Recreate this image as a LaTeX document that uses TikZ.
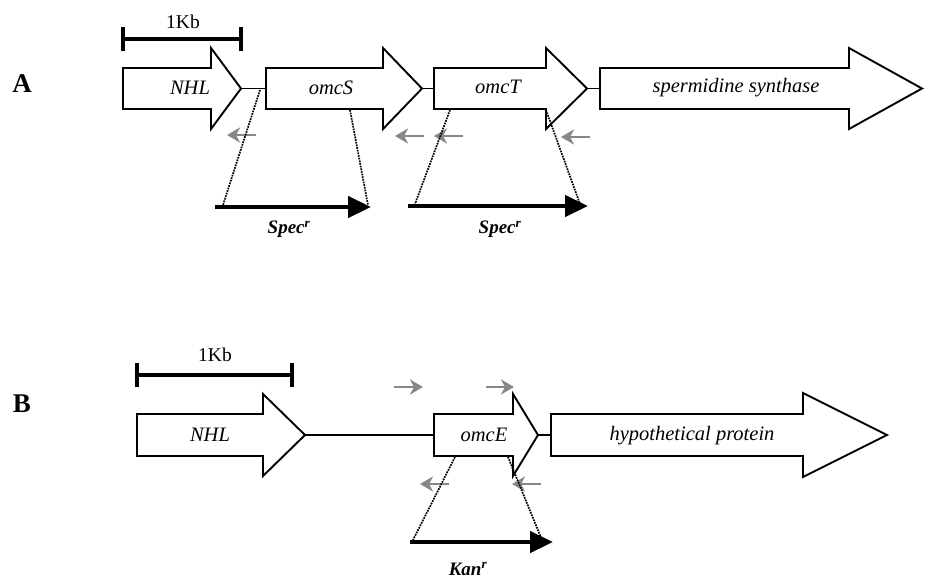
\documentclass[tikz,border=0pt]{standalone}
\usepackage{fontspec}
\setmainfont{Liberation Serif}
\usetikzlibrary{arrows.meta}
\newcommand\genepoly[6]{% x0, xh, xt, ytop, ybot, headext
  \draw[gene] (#1,#4) -- (#2,#4) -- (#2,{#4-#6}) -- (#3,{(#4+#5)/2}) -- (#2,{#5+#6}) -- (#2,#5) -- (#1,#5) -- cycle;}
\begin{document}
\begin{tikzpicture}[x=1pt,y=-1pt,
  gene/.style={draw=black, line width=1.9pt, fill=white, line join=miter},
  glabel/.style={font=\fontsize{20.5}{24}\selectfont\itshape, inner sep=0pt},
  intergenic/.style={draw=black, line width=1.8pt},
  scalebar/.style={draw=black, line width=3.4pt},
  scaletxt/.style={font=\fontsize{19.5}{22}\selectfont, inner sep=0pt},
  panel/.style={font=\fontsize{27}{30}\selectfont\bfseries, inner sep=0pt},
  primer/.style={draw=black!47, line width=2.6pt, -{Stealth[length=13pt,width=15pt,inset=4pt]}},
  cassette/.style={draw=black, line width=4.5pt, -{Triangle[length=23pt,width=21pt]}},
  cassettetxt/.style={font=\fontsize{19}{22}\selectfont\bfseries\itshape, inner sep=0pt},
  dots/.style={draw=black, line width=1.7pt, densely dotted}]
\useasboundingbox[fill=white] (0,0) rectangle (929,581);

% ---------------- Panel A ----------------
\node[panel] (A) at (22,84) {A};

% scale bar
\coordinate (sbA-l) at (123,39);
\coordinate (sbA-r) at (241,39);
\draw[scalebar] (sbA-l) -- (sbA-r);
\draw[scalebar] ([yshift=-12pt]sbA-l) -- ([yshift=12pt]sbA-l);
\draw[scalebar] ([yshift=-12pt]sbA-r) -- ([yshift=12pt]sbA-r);
\node[scaletxt] (kbA) at (183,22) {1Kb};

% intergenic lines
\coordinate (nhlA-tip) at (241,88.5);
\coordinate (omcS-left) at (266,88.5);
\coordinate (omcS-tip) at (422,88.5);
\coordinate (omcT-left) at (434,88.5);
\coordinate (omcT-tip) at (587,88.5);
\coordinate (spe-left) at (600,88.5);
\draw[intergenic] (nhlA-tip) -- (omcS-left);
\draw[intergenic] (omcS-tip) -- (omcT-left);
\draw[intergenic] (omcT-tip) -- (spe-left);

% genes
\genepoly{123}{211}{241}{68}{109}{20}
\genepoly{266}{383}{422}{68}{109}{20}
\genepoly{434}{546}{587}{68}{109}{20}
\genepoly{600}{849}{922}{68}{109}{20}
\node[glabel] (nhlA) at (190,88) {NHL};
\node[glabel] (omcS) at (331,88) {omcS};
\node[glabel] (omcT) at (498,87) {omcT};
\node[glabel] (spe) at (736,88) {spermidine synthase};

% primers
\coordinate (pA1s) at (256,135); \coordinate (pA1e) at (227,135);
\coordinate (pA2s) at (424,136); \coordinate (pA2e) at (395,136);
\coordinate (pA3s) at (463,136); \coordinate (pA3e) at (434,136);
\coordinate (pA4s) at (590,137); \coordinate (pA4e) at (561,137);
\draw[primer] (pA1s) -- (pA1e);
\draw[primer] (pA2s) -- (pA2e);
\draw[primer] (pA3s) -- (pA3e);
\draw[primer] (pA4s) -- (pA4e);

% cassettes
\coordinate (spec1-s) at (215,207); \coordinate (spec1-e) at (371,207);
\coordinate (spec2-s) at (408,206); \coordinate (spec2-e) at (588,206);
\draw[cassette] (spec1-s) -- (spec1-e);
\draw[cassette] (spec2-s) -- (spec2-e);
\node[cassettetxt] (specA1) at (289,229) {Spec\textsuperscript{r}};
\node[cassettetxt] (specA2) at (500,229) {Spec\textsuperscript{r}};

% dotted insertion lines
\coordinate (dA1t) at (260,90);  \coordinate (dA1b) at (223,205);
\coordinate (dA2t) at (350,110); \coordinate (dA2b) at (368,205);
\coordinate (dA3t) at (450,110); \coordinate (dA3b) at (415,204);
\coordinate (dA4t) at (546,110); \coordinate (dA4b) at (580,204);
\draw[dots] (dA1t) -- (dA1b);
\draw[dots] (dA2t) -- (dA2b);
\draw[dots] (dA3t) -- (dA3b);
\draw[dots] (dA4t) -- (dA4b);

% ---------------- Panel B ----------------
\node[panel] (B) at (22,404) {B};

\coordinate (sbB-l) at (137,375);
\coordinate (sbB-r) at (292,375);
\draw[scalebar] (sbB-l) -- (sbB-r);
\draw[scalebar] ([yshift=-12pt]sbB-l) -- ([yshift=12pt]sbB-l);
\draw[scalebar] ([yshift=-12pt]sbB-r) -- ([yshift=12pt]sbB-r);
\node[scaletxt] (kbB) at (215,355) {1Kb};

\coordinate (nhlB-tip) at (305,435);
\coordinate (omcE-left) at (434,435);
\coordinate (omcE-tip) at (538,435);
\coordinate (hyp-left) at (551,435);
\draw[intergenic] (nhlB-tip) -- (omcE-left);
\draw[intergenic] (omcE-tip) -- (hyp-left);

\genepoly{137}{263}{305}{414}{456}{20}
\genepoly{434}{513}{538}{414}{456}{20}
\genepoly{551}{803}{887}{414}{456}{21}
\node[glabel] (nhlB) at (210,435) {NHL};
\node[glabel] (omcE) at (484,435) {omcE};
\node[glabel] (hyp) at (692,436) {hypothetical protein};

% primers
\coordinate (pB1s) at (394,387); \coordinate (pB1e) at (423,387);
\coordinate (pB2s) at (486,387); \coordinate (pB2e) at (514,387);
\coordinate (pB3s) at (449,484); \coordinate (pB3e) at (420,484);
\coordinate (pB4s) at (541,484); \coordinate (pB4e) at (512,484);
\draw[primer] (pB1s) -- (pB1e);
\draw[primer] (pB2s) -- (pB2e);
\draw[primer] (pB3s) -- (pB3e);
\draw[primer] (pB4s) -- (pB4e);

% cassette
\coordinate (kan-s) at (410,542); \coordinate (kan-e) at (553,542);
\draw[cassette] (kan-s) -- (kan-e);
\node[cassettetxt] (kanB) at (468,569) {Kan\textsuperscript{r}};

\coordinate (dB1t) at (455,457); \coordinate (dB1b) at (413,540);
\coordinate (dB2t) at (508,457); \coordinate (dB2b) at (542,540);
\draw[dots] (dB1t) -- (dB1b);
\draw[dots] (dB2t) -- (dB2b);
\end{tikzpicture}
\end{document}
